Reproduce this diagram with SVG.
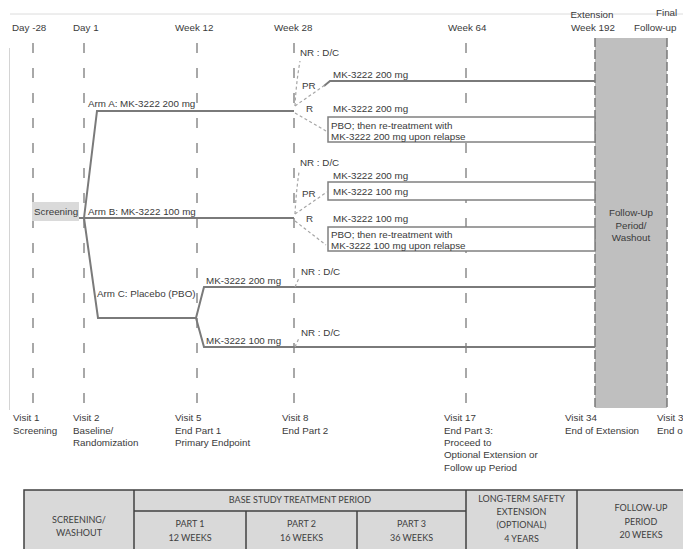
<svg xmlns="http://www.w3.org/2000/svg" width="683" height="549" viewBox="0 0 683 549">
<style>
  text { font-family: "Liberation Sans", Arial, sans-serif; font-size: 9.8px; fill: #3a3a3a; }
  .c { text-anchor: middle; }
  .grid { stroke: #8c8c8c; stroke-width: 1.5; stroke-dasharray: 10 15; fill: none; }
  .line { stroke: #7a7a7a; stroke-width: 2; fill: none; }
  .box { stroke: #808080; stroke-width: 1.5; fill: #ffffff; }
  .dash { stroke: #a6a6a6; stroke-width: 1.2; stroke-dasharray: 3 2.5; fill: none; }
  .edge { stroke: #7a7a7a; stroke-width: 1.5; stroke-dasharray: 9 3; fill: none; }
  .tbl { fill: #d9d9d9; stroke: #404040; stroke-width: 1.5; }
  .tl { stroke: #404040; stroke-width: 1.5; fill: none; }
  .tt { font-family: Lato, "Liberation Sans", sans-serif; font-size: 9px; fill: #404040; text-anchor: middle; }
</style>
<rect width="683" height="549" fill="#ffffff"/>

<g id="frame">
  <line x1="10" y1="14" x2="683" y2="14" stroke="#dcdcdc" stroke-width="1"/>
  <line x1="9.5" y1="48" x2="9.5" y2="410" stroke="#d4d4d4" stroke-width="1"/>
</g>

<g id="timeline-header">
  <text x="12" y="31">Day -28</text>
  <text x="73" y="31">Day 1</text>
  <text x="175" y="31">Week 12</text>
  <text x="274" y="31">Week 28</text>
  <text x="448" y="31">Week 64</text>
  <text x="592" y="18" class="c">Extension</text>
  <text x="593" y="31" class="c">Week 192</text>
  <text x="656" y="16">Final</text>
  <text x="634" y="31">Follow-up</text>
</g>

<g id="grid">
  <line class="grid" x1="33" y1="43" x2="33" y2="403"/>
  <line class="grid" x1="84" y1="43" x2="84" y2="403"/>
  <line class="grid" x1="197" y1="43" x2="197" y2="403"/>
  <line class="grid" x1="294" y1="43" x2="294" y2="403"/>
  <line class="grid" x1="466" y1="43" x2="466" y2="403"/>
</g>

<g id="followup-washout">
  <rect x="595" y="38" width="72" height="370" fill="#bfbfbf"/>
  <line class="edge" x1="595" y1="38" x2="595" y2="408"/>
  <line class="edge" x1="667" y1="38" x2="667" y2="408"/>
  <text x="631" y="216" class="c">Follow-Up</text>
  <text x="631" y="229" class="c">Period/</text>
  <text x="631" y="241" class="c">Washout</text>
</g>

<g id="connectors">
  <path class="line" d="M84,218 L97,111 H294"/>
  <path class="line" d="M79,218 H294"/>
  <path class="line" d="M84,218 L98,318 H196 L204,287 H595"/>
  <path class="line" d="M196,318 L204,347 H595"/>
  <path class="line" d="M324,86 L330,81 H595"/>
  <path class="dash" d="M295,106 Q296,84 300,61"/>
  <path class="dash" d="M295,106 L325,85"/>
  <path class="dash" d="M295,113 L326,131"/>
  <path class="dash" d="M295,214 Q296,193 299,172"/>
  <path class="dash" d="M295,214 L327,192"/>
  <path class="dash" d="M295,221 L326,245"/>
  <path class="dash" d="M295,287 L299,278"/>
  <path class="dash" d="M295,347 L299,338"/>
</g>

<g id="screening">
  <rect x="32" y="202" width="47" height="19" fill="#dadada"/>
  <text x="34" y="215">Screening</text>
</g>

<g id="arm-a">
  <text x="88" y="107">Arm A: MK-3222 200 mg</text>
  <text x="300" y="56">NR : D/C</text>
  <text x="302" y="89">PR</text>
  <text x="306" y="112">R</text>
  <text x="333" y="78">MK-3222 200 mg</text>
  <text x="333" y="112">MK-3222 200 mg</text>
</g>
<g id="arm-a-pbo">
  <rect class="box" x="328" y="117" width="267" height="25"/>
  <text x="331" y="129">PBO; then re-treatment with</text>
  <text x="331" y="140">MK-3222 200 mg upon relapse</text>
</g>

<g id="arm-b">
  <text x="88" y="215">Arm B: MK-3222 100 mg</text>
  <text x="300" y="166">NR : D/C</text>
  <text x="302" y="197">PR</text>
  <text x="306" y="222">R</text>
  <text x="333" y="179">MK-3222 200 mg</text>
  <text x="333" y="222">MK-3222 100 mg</text>
</g>
<g id="arm-b-pr">
  <rect class="box" x="328" y="182" width="267" height="18"/>
  <text x="333" y="195">MK-3222 100 mg</text>
</g>
<g id="arm-b-pbo">
  <rect class="box" x="328" y="227" width="267" height="24"/>
  <text x="331" y="238">PBO; then re-treatment with</text>
  <text x="331" y="249">MK-3222 100 mg upon relapse</text>
</g>

<g id="arm-c">
  <text x="97" y="297">Arm C: Placebo (PBO)</text>
  <text x="206" y="284">MK-3222 200 mg</text>
  <text x="206" y="344">MK-3222 100 mg</text>
  <text x="301" y="275">NR : D/C</text>
  <text x="301" y="336">NR : D/C</text>
</g>

<g id="visits">
  <text x="13" y="421">Visit 1</text>
  <text x="13" y="434">Screening</text>
  <text x="73" y="421">Visit 2</text>
  <text x="73" y="434">Baseline/</text>
  <text x="73" y="446">Randomization</text>
  <text x="175" y="421">Visit 5</text>
  <text x="175" y="434">End Part 1</text>
  <text x="175" y="446">Primary Endpoint</text>
  <text x="282" y="421">Visit 8</text>
  <text x="282" y="434">End Part 2</text>
  <text x="444" y="421">Visit 17</text>
  <text x="444" y="434">End Part 3:</text>
  <text x="444" y="446">Proceed to</text>
  <text x="444" y="458">Optional Extension or</text>
  <text x="444" y="471">Follow up Period</text>
  <text x="565" y="421">Visit 34</text>
  <text x="565" y="434">End of Extension</text>
  <text x="657" y="421">Visit 3</text>
  <text x="657" y="434">End o</text>
</g>

<g id="period-table">
  <rect class="tbl" x="24" y="490" width="682" height="70"/>
  <line class="tl" x1="134" y1="490" x2="134" y2="560"/>
  <line class="tl" x1="466" y1="490" x2="466" y2="560"/>
  <line class="tl" x1="577" y1="490" x2="577" y2="560"/>
  <line class="tl" x1="134" y1="511" x2="466" y2="511"/>
  <line class="tl" x1="246" y1="511" x2="246" y2="560"/>
  <line class="tl" x1="357" y1="511" x2="357" y2="560"/>
  <text class="tt" x="79" y="523">SCREENING/</text>
  <text class="tt" x="79" y="536">WASHOUT</text>
  <text class="tt" x="300" y="503">BASE STUDY TREATMENT PERIOD</text>
  <text class="tt" x="190" y="527">PART 1</text>
  <text class="tt" x="190" y="541">12 WEEKS</text>
  <text class="tt" x="301.5" y="527">PART 2</text>
  <text class="tt" x="301.5" y="541">16 WEEKS</text>
  <text class="tt" x="411.5" y="527">PART 3</text>
  <text class="tt" x="411.5" y="541">36 WEEKS</text>
  <text class="tt" x="521.5" y="502">LONG-TERM SAFETY</text>
  <text class="tt" x="521.5" y="515">EXTENSION</text>
  <text class="tt" x="521.5" y="528">(OPTIONAL)</text>
  <text class="tt" x="521.5" y="542">4 YEARS</text>
  <text class="tt" x="641" y="511">FOLLOW-UP</text>
  <text class="tt" x="641" y="525">PERIOD</text>
  <text class="tt" x="641" y="538">20 WEEKS</text>
</g>
</svg>
